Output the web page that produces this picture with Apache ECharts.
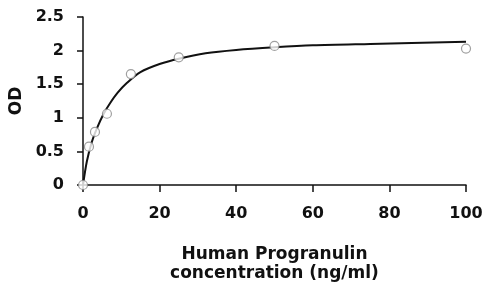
<!DOCTYPE html>
<html>
<head>
<meta charset="utf-8">
<script src="https://cdn.jsdelivr.net/npm/echarts@6/dist/echarts.min.js"></script>
<style>
html, body { margin: 0; padding: 0; background: #fff; }
#chart { width: 483px; height: 284px; }
</style>
</head>
<body>
<div id="chart"></div>
<script>
// measured standards (ng/ml, OD)
var conc = [0, 1.56, 3.125, 6.25, 12.5, 25, 50, 100];
var od = [0, 0.57, 0.79, 1.06, 1.65, 1.90, 2.07, 2.03];

// fitted curve
var fitX = [0, 1, 2.3, 3.6, 5.4, 7.1, 9, 11.5, 15, 20, 25, 32, 40, 50, 60, 75, 100];
var fitY = [0, 0.35, 0.64, 0.84, 1.06, 1.22, 1.37, 1.52, 1.68, 1.80, 1.88, 1.96, 2.01, 2.05, 2.08, 2.10, 2.13];

var font = 'DejaVu Sans, sans-serif';

var pts = conc.map(function(c, i) { return [c, od[i]]; });
var fit = fitX.map(function(c, i) { return [c, fitY[i]]; });

var option = {
	animation: false,
	grid: {
		left: 83,
		right: 17,
		top: 17,
		bottom: 99,
		outerBoundsMode: 'none'
	},
	xAxis: {
		type: 'value',
		min: 0,
		max: 100,
		interval: 20,
		name: 'Human Progranulin\nconcentration (ng/ml)',
		nameLocation: 'middle',
		nameGap: 60,
		nameTextStyle: {
			color: '#111',
			fontFamily: font,
			fontWeight: 'bold',
			fontSize: 17,
			lineHeight: 19
		},
		axisLine: { lineStyle: { color: '#111', width: 1.5 } },
		axisTick: { length: 7, lineStyle: { color: '#111', width: 1.5 } },
		axisLabel: {
			color: '#111',
			fontFamily: font,
			fontWeight: 'bold',
			fontSize: 16,
			margin: 21
		},
		splitLine: { show: false }
	},
	yAxis: {
		type: 'value',
		min: 0,
		max: 2.5,
		interval: 0.5,
		name: 'OD',
		nameLocation: 'middle',
		nameGap: 52,
		nameRotate: 90,
		nameTextStyle: {
			color: '#111',
			fontFamily: font,
			fontWeight: 'bold',
			fontSize: 17
		},
		axisLine: { show: true, lineStyle: { color: '#111', width: 1.5 } },
		axisTick: { show: true, length: 6, lineStyle: { color: '#111', width: 1.5 } },
		axisLabel: {
			color: '#111',
			fontFamily: font,
			fontWeight: 'bold',
			fontSize: 16,
			margin: 19
		},
		splitLine: { show: false }
	},
	series: [{
		type: 'line',
		data: fit,
		smooth: 0.3,
		showSymbol: false,
		lineStyle: { color: '#111', width: 2 },
		z: 2
	}, {
		type: 'scatter',
		data: pts,
		symbol: 'circle',
		symbolSize: 9,
		itemStyle: { color: '#fff', borderColor: '#888', borderWidth: 1.2 },
		z: 3
	}]
};

var chart = echarts.init(document.getElementById('chart'));
chart.setOption(option);
</script>
</body>
</html>
